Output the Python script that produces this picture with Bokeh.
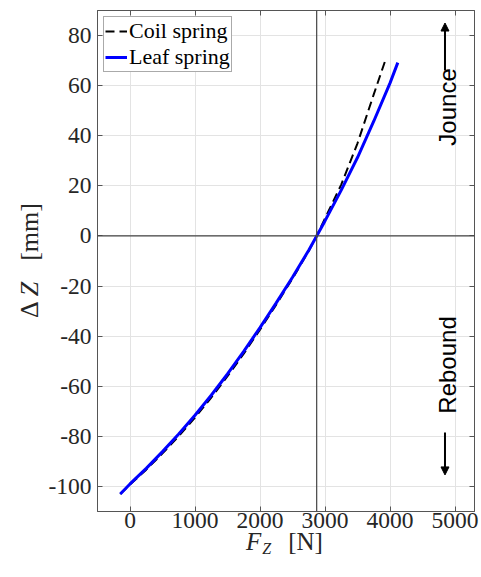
from math import pi
from bokeh.plotting import figure
from bokeh.layouts import row, column
from bokeh.models import (Range1d, FixedTicker, LinearAxis, Span, Label, Div,
                          Arrow, NormalHead)
from bokeh.embed import file_html
from bokeh.resources import INLINE

# ---- data ----
leaf_force = [-150, 0, 250, 500, 750, 1000, 1250, 1500, 1750, 2000, 2250, 2500,
              2750, 2872, 3000, 3250, 3500, 3750, 4000, 4120]
leaf_dz = [-103, -99, -92.8, -86.1, -79.1, -71.6, -63.6, -55.1, -46.1, -36.6, -26.7,
           -16.5, -5.7, 0, 6, 18.3, 31.3, 45.8, 61, 69.2]
coil_force = [-150, 0, 250, 500, 750, 1000, 1250, 1500, 1750, 2000, 2250, 2500,
              2750, 2872, 3000, 3250, 3500, 3750, 3920]
coil_dz = [-103, -99.2, -93.3, -86.8, -79.9, -72.5, -64.5, -56, -47, -37.4, -27.4,
           -17, -6, 0, 7, 20.5, 37, 56.5, 69.5]
static_load = 2872
x_ticks = [0, 1000, 2000, 3000, 4000, 5000]
x_tick_labels = ["0", "1000", "2000", "3000", "4000", "5000"]
y_ticks = [-100, -80, -60, -40, -20, 0, 20, 40, 60, 80]
y_tick_labels = ["-100", "-80", "-60", "-40", "-20", "0", "20", "40", "60", "80"]
series_names = ["Coil spring", "Leaf spring"]

SERIF = "Liberation Serif"
SANS = "Liberation Sans"
AX = "#555555"
TXT = "#262626"

YLAB_W = 44
P_H = 541

p = figure(frame_width=377, frame_height=501,
           x_range=Range1d(-500, 5300), y_range=Range1d(-110, 90),
           output_backend="svg", toolbar_location=None,
           min_border_left=97 - YLAB_W, min_border_top=10, min_border_right=7,
           min_border_bottom=P_H - 511)
p.outline_line_color = AX

def style_axis(ax, ticks, labels, show):
    ax.ticker = FixedTicker(ticks=ticks)
    ax.major_tick_in = 5
    ax.major_tick_out = 0
    ax.minor_tick_in = 0
    ax.minor_tick_out = 0
    ax.axis_line_color = AX
    ax.major_tick_line_color = AX
    ax.major_label_text_color = TXT
    ax.major_label_text_font = SERIF
    if show:
        ax.major_label_overrides = {t: l for t, l in zip(ticks, labels)}
        ax.major_label_text_font_size = "23.5px"
    else:
        ax.major_label_overrides = {t: "" for t in ticks}
        ax.major_label_text_font_size = "1px"
        ax.major_label_standoff = 0

style_axis(p.xaxis[0], x_ticks, x_tick_labels, True)
p.xaxis[0].major_label_standoff = 1
style_axis(p.yaxis[0], y_ticks, y_tick_labels, True)
p.yaxis[0].major_label_standoff = 6

top_ax = LinearAxis()
style_axis(top_ax, x_ticks, x_tick_labels, False)
p.add_layout(top_ax, "above")
right_ax = LinearAxis()
style_axis(right_ax, y_ticks, y_tick_labels, False)
p.add_layout(right_ax, "right")

p.xgrid.ticker = FixedTicker(ticks=x_ticks)
p.ygrid.ticker = FixedTicker(ticks=y_ticks)
p.grid.grid_line_color = "#e3e3e3"
p.grid.grid_line_width = 1

# reference lines
p.add_layout(Span(location=0, dimension="width", line_color="#444444", line_width=1.2))
p.add_layout(Span(location=static_load, dimension="height", line_color="#444444", line_width=1.2))

p.line(coil_force, coil_dz, line_color="black", line_width=2, line_dash="9 5",
       legend_label=series_names[0])
p.line(leaf_force, leaf_dz, line_color="blue", line_width=3,
       legend_label=series_names[1])

lg = p.legend[0]
lg.location = "top_left"
lg.margin = 6
lg.padding = 1
lg.spacing = 0
lg.glyph_width = 22
lg.glyph_height = 20
lg.label_height = 20
lg.label_standoff = 2
lg.label_text_font = SERIF
lg.label_text_font_size = "22px"
lg.label_text_color = "black"
lg.border_line_color = "#555555"
lg.border_line_width = 1
lg.background_fill_alpha = 1

# Jounce / Rebound annotations
p.add_layout(Label(x=4890, y=51.5, text="Jounce", angle=pi / 2, text_align="center",
                   text_baseline="alphabetic", text_font=SANS,
                   text_font_size="24px", text_color="black"))
p.add_layout(Label(x=4880, y=-51.5, text="Rebound", angle=pi / 2, text_align="center",
                   text_baseline="alphabetic", text_font=SANS,
                   text_font_size="24px", text_color="black"))
p.add_layout(Arrow(x_start=4846, y_start=66, x_end=4846, y_end=85, line_width=2,
                   end=NormalHead(size=8, fill_color="black", line_color="black")))
p.add_layout(Arrow(x_start=4846, y_start=-78.5, x_end=4846, y_end=-95.4, line_width=2,
                   end=NormalHead(size=8, fill_color="black", line_color="black")))

# ---- axis titles as HTML (italic symbol + subscript, LaTeX-like) ----
font_css = "font-family:'Liberation Serif',serif; color:%s; white-space:nowrap; line-height:25px;" % TXT

ylab_html = (
    '<div style="position:relative; width:%dpx; height:%dpx;">'
    '<div style="position:absolute; left:17px; top:318px; transform:rotate(-90deg); '
    'transform-origin:left top; font-size:26px; %s">'
    '<span>\u0394</span><i style="margin-left:5px;">Z</i>'
    '<span style="margin-left:21px;">[mm]</span></div></div>'
) % (YLAB_W, P_H, font_css)

xlab_html = (
    '<div style="position:relative; width:481px; height:57px;">'
    '<div style="position:absolute; left:246px; top:9px; font-size:25px; %s">'
    '<i>F</i><i style="font-size:16px; vertical-align:-4px; margin-left:1px;">Z</i>'
    '<span style="margin-left:17px;">[N]</span></div></div>'
) % font_css

ydiv = Div(text=ylab_html, width=YLAB_W, height=P_H, margin=(0, 0, 0, 0))
xdiv = Div(text=xlab_html, width=481, height=57, margin=(-21, 0, 0, 0))

layout = column(row(ydiv, p, margin=(0, 0, 0, 0)), xdiv, margin=(0, 0, 0, 0))

open("out.html", "w").write(file_html(layout, INLINE))
